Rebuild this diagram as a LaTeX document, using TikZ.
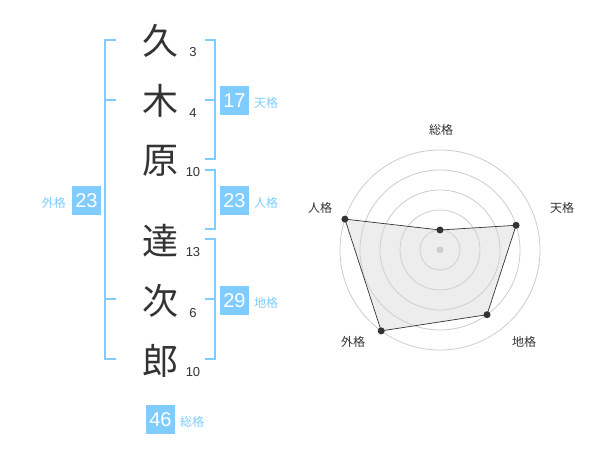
\documentclass[tikz,border=0pt]{standalone}
\usepackage{fontspec}
\setmainfont{Liberation Sans}
\newfontfamily\cjk{Noto Sans CJK JP}
\definecolor{accent}{HTML}{80CCFF}
\definecolor{ink}{HTML}{333333}
\definecolor{ring}{HTML}{CCCCCC}
\tikzset{
  kanji/.style={font=\cjk\fontsize{36}{36}\selectfont, text=ink, inner sep=0pt},
  strokes/.style={font=\fontsize{13}{13}\selectfont, text=ink, inner sep=0pt},
  valbox/.style={fill=accent, text=white, minimum width=29pt, minimum height=29pt, inner sep=0pt, font=\fontsize{20}{20}\selectfont},
  vallabel/.style={font=\cjk\fontsize{12}{12}\selectfont, text=accent, inner sep=0pt},
  bracket/.style={draw=accent, line width=2pt},
  radlabel/.style={font=\cjk\fontsize{12}{12}\selectfont, text=ink, inner sep=0pt},
  ringline/.style={draw=ring, line width=0.8pt},
  dot/.style={circle, fill=ink, inner sep=0pt, minimum size=7pt}
}
\begin{document}
\begin{tikzpicture}[x=1pt,y=-1pt]
\useasboundingbox (0,0) rectangle (600,470);
% kanji
\node[kanji] (k1) at (160,41) {久};
\node[kanji] (k2) at (160,101) {木};
\node[kanji] (k3) at (160,161) {原};
\node[kanji] (k4) at (160,241) {達};
\node[kanji] (k5) at (160,301) {次};
\node[kanji] (k6) at (160,361) {郎};
\node[strokes] (s1) at (193,52) {3};
\node[strokes] (s2) at (193,113) {4};
\node[strokes] (s3) at (193,172.5) {10};
\node[strokes] (s4) at (193,252.5) {13};
\node[strokes] (s5) at (193,313) {6};
\node[strokes] (s6) at (193,372.5) {10};
% left bracket (gaikaku)
\coordinate (L1) at (116,40);
\coordinate (L2) at (116,100);
\coordinate (L3) at (116,299.5);
\coordinate (L4) at (116,359.5);
\draw[bracket] (L1) -- (105,40) -- (105,359.5) -- (L4);
\draw[bracket] (105,100) -- (L2);
\draw[bracket] (105,299.5) -- (L3);
% right brackets
\coordinate (T1) at (205,40);
\coordinate (T2) at (205,159.5);
\draw[bracket] (T1) -- (214.5,40) -- (214.5,159.5) -- (T2);
\draw[bracket] (205,100) -- (214.5,100);
\coordinate (J1) at (205,170);
\coordinate (J2) at (205,229.5);
\draw[bracket] (J1) -- (214.5,170) -- (214.5,229.5) -- (J2);
\coordinate (C1) at (205,239.5);
\coordinate (C2) at (205,359.5);
\draw[bracket] (C1) -- (214.5,239.5) -- (214.5,359.5) -- (C2);
\draw[bracket] (205,299.5) -- (214.5,299.5);
% value boxes
\node[valbox] (ten) at (234.5,100.5) {17};
\node[vallabel, anchor=west] (tenl) at (254,103) {天格};
\node[valbox] (jin) at (234.5,200.5) {23};
\node[vallabel, anchor=west] (jinl) at (254,203) {人格};
\node[valbox] (chi) at (234.5,300.5) {29};
\node[vallabel, anchor=west] (chil) at (254,303) {地格};
\node[valbox] (gai) at (86.5,200.5) {23};
\node[vallabel, anchor=east] (gail) at (66,203) {外格};
\node[valbox] (sou) at (160.5,419.5) {46};
\node[vallabel, anchor=west] (soul) at (180,422) {総格};
% radar
\coordinate (O) at (440,250);
\foreach \r in {20,40,60,80,100} \draw[ringline] (O) circle[radius=\r];
\fill[ring] (O) circle[radius=3.5];
\coordinate (pS) at (440,230);
\coordinate (pT) at (516.1,225.3);
\coordinate (pC) at (487.0,314.7);
\coordinate (pG) at (381.2,330.9);
\coordinate (pJ) at (344.9,219.1);
\filldraw[fill=gray!35, fill opacity=0.4, draw=ink, line width=0.7pt] (pS) -- (pT) -- (pC) -- (pG) -- (pJ) -- cycle;
\foreach \p in {pS,pT,pC,pG,pJ} \node[dot] at (\p) {};
\node[radlabel] (rS) at (441,130) {総格};
\node[radlabel] (rT) at (562,208) {天格};
\node[radlabel] (rC) at (524,342) {地格};
\node[radlabel] (rG) at (353,342) {外格};
\node[radlabel] (rJ) at (320,208) {人格};
\end{tikzpicture}
\end{document}
